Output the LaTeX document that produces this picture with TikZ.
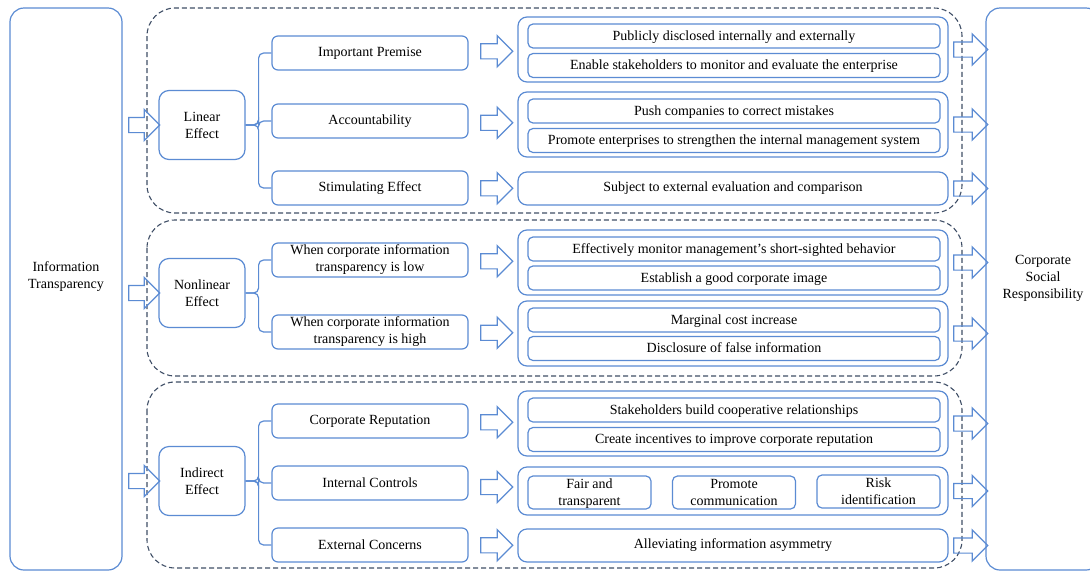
\documentclass[tikz,border=0pt]{standalone}
\usepackage{fontspec}
\setmainfont{Liberation Serif}
\usepackage{tikz}
\usetikzlibrary{positioning, calc, shapes.arrows}
\definecolor{bordo}{HTML}{5B8BD3}
\definecolor{tratteggio}{HTML}{3F4E66}
\tikzset{
	% testo comune
	testo/.style={font=\fontsize{14}{17}\selectfont, align=center, inner sep=2pt},
	% riquadri laterali (causa ed effetto)
	estremo/.style={draw=bordo, line width=1.2pt, rounded corners=14pt, minimum width=112pt, minimum height=562pt},
	% gruppo tratteggiato
	gruppo/.style={draw=tratteggio, line width=1.1pt, dash pattern=on 5pt off 3pt, rounded corners=28pt},
	% primo livello
	effetto/.style={testo, draw=bordo, line width=1.2pt, rounded corners=10pt, minimum width=86pt, minimum height=69pt},
	% secondo livello
	ramo/.style={testo, draw=bordo, line width=1.2pt, rounded corners=6pt, minimum width=196pt, minimum height=34pt},
	% contenitore del terzo livello
	contenitore/.style={testo, draw=bordo, line width=1.2pt, rounded corners=9pt, minimum width=430pt},
	% voce interna
	voce/.style={testo, draw=bordo, line width=1.2pt, rounded corners=5pt, minimum width=412pt, minimum height=24pt,
	             inner sep=0pt, text depth=1pt},
	% freccia a blocco
	freccia/.style={draw=bordo, line width=1.2pt, single arrow, single arrow head extend=8pt,
	                single arrow head indent=0pt, inner sep=7pt, minimum height=#1},
	freccia/.default=32pt,
	% linee di diramazione
	diram/.style={draw=bordo, line width=1.2pt, rounded corners=5pt},
}

\begin{document}
\begin{tikzpicture}[x=1pt, y=-1pt]
    \clip (0,0) rectangle (1090,574);
    % riquadri laterali
    \node[estremo, label={[testo, yshift=12pt]center:Information\\Transparency}] (trasp) at (66,289) {};
    \node[estremo, minimum width=114pt, label={[testo, yshift=11pt]center:Corporate\\Social\\Responsibility}] (rsi) at (1043,289) {};
    % gruppi tratteggiati
    \draw[gruppo] (147,8)   rectangle (962,213);
    \draw[gruppo] (147,220) rectangle (962,376);
    \draw[gruppo] (147,382) rectangle (962,568);
    % primo livello
    \node[effetto] (lin)  at (202,125) {Linear\\Effect};
    \node[effetto] (nlin) at (202,293) {Nonlinear\\Effect};
    \node[effetto] (ind)  at (202,481) {Indirect\\Effect};
    \foreach \n in {lin,nlin,ind}
      \node[freccia=31pt] (f\n) at ($(trasp.east |- \n.west)!0.5!(\n.west)$) {};
    % secondo livello
    \node[ramo] (prem) at (370,53)  {Important Premise};
    \node[ramo] (resp) at (370,121) {Accountability};
    \node[ramo] (stim) at (370,188) {Stimulating Effect};
    \node[ramo] (bassa) at (370,260) {When corporate information\\transparency is low};
    \node[ramo] (alta)  at (370,332) {When corporate information\\transparency is high};
    \node[ramo] (rep)  at (370,421) {Corporate Reputation};
    \node[ramo] (ctrl) at (370,483) {Internal Controls};
    \node[ramo] (est)  at (370,545) {External Concerns};
    % diramazioni
    \foreach \f in {prem,resp,stim}
      \draw[diram] (lin.east) -- ++(13,0) |- (\f.west);
    \foreach \f in {bassa,alta}
      \draw[diram] (nlin.east) -- ++(13,0) |- (\f.west);
    \foreach \f in {rep,ctrl,est}
      \draw[diram] (ind.east) -- ++(13,0) |- (\f.west);
    % terzo livello
    \node[contenitore, minimum height=65pt] (ca) at (733,49.5) {};
    \node[voce] (va1) at (734,36)   {Publicly disclosed internally and externally};
    \node[voce] (va2) at (734,65.5) {Enable stakeholders to monitor and evaluate the enterprise};
    \node[contenitore, minimum height=65pt] (cb) at (733,124.5) {};
    \node[voce] (vb1) at (734,111)   {Push companies to correct mistakes};
    \node[voce] (vb2) at (734,140.5) {Promote enterprises to strengthen the internal management system};
    \node[contenitore, minimum height=33pt] (cc) at (733,188.5) {Subject to external evaluation and comparison};
    \node[contenitore, minimum height=65pt] (cd) at (733,262.5) {};
    \node[voce] (vd1) at (734,249) {Effectively monitor management's short-sighted behavior};
    \node[voce] (vd2) at (734,278) {Establish a good corporate image};
    \node[contenitore, minimum height=65pt] (ce) at (733,333.5) {};
    \node[voce] (ve1) at (734,320)   {Marginal cost increase};
    \node[voce] (ve2) at (734,348.5) {Disclosure of false information};
    \node[contenitore, minimum height=65pt] (cf) at (733,423.5) {};
    \node[voce] (vf1) at (734,410)   {Stakeholders build cooperative relationships};
    \node[voce] (vf2) at (734,439.5) {Create incentives to improve corporate reputation};
    \node[contenitore, minimum height=48pt] (cg) at (733,491) {};
    \node[voce, minimum width=123pt, minimum height=33pt] (vg1) at (589.5,492.5) {Fair and\\transparent};
    \node[voce, minimum width=123pt, minimum height=33pt] (vg2) at (734,492.5)   {Promote\\communication};
    \node[voce, minimum width=123pt, minimum height=33pt] (vg3) at (878.5,491.5) {Risk\\identification};
    \node[contenitore, minimum height=33pt] (ch) at (733,545.5) {Alleviating information asymmetry};
    % frecce centrali
    \node[freccia] (m1) at ($(prem.east)!0.5!(ca.west)$) {};
    \node[freccia] (m2) at ($(resp.east)!0.5!(cb.west)$) {};
    \node[freccia] (m3) at ($(stim.east)!0.5!(cc.west)$) {};
    \node[freccia] (m4) at ($(bassa.east)!0.5!(cd.west)$) {};
    \node[freccia] (m5) at ($(alta.east)!0.5!(ce.west)$) {};
    \node[freccia] (m6) at ($(rep.east)!0.5!(cf.west)$) {};
    \node[freccia] (m7) at ($(ctrl.east)!0.5!(cg.west)$) {};
    \node[freccia] (m8) at ($(est.east)!0.5!(ch.west)$) {};
    % frecce verso la responsabilita sociale
    \foreach \c in {ca,cb,cc,cd,ce,cf,cg,ch}
      \node[freccia=34pt] (r\c) at ($(\c.east)!0.5!(rsi.west |- \c.east)$) {};
\end{tikzpicture}
\end{document}
